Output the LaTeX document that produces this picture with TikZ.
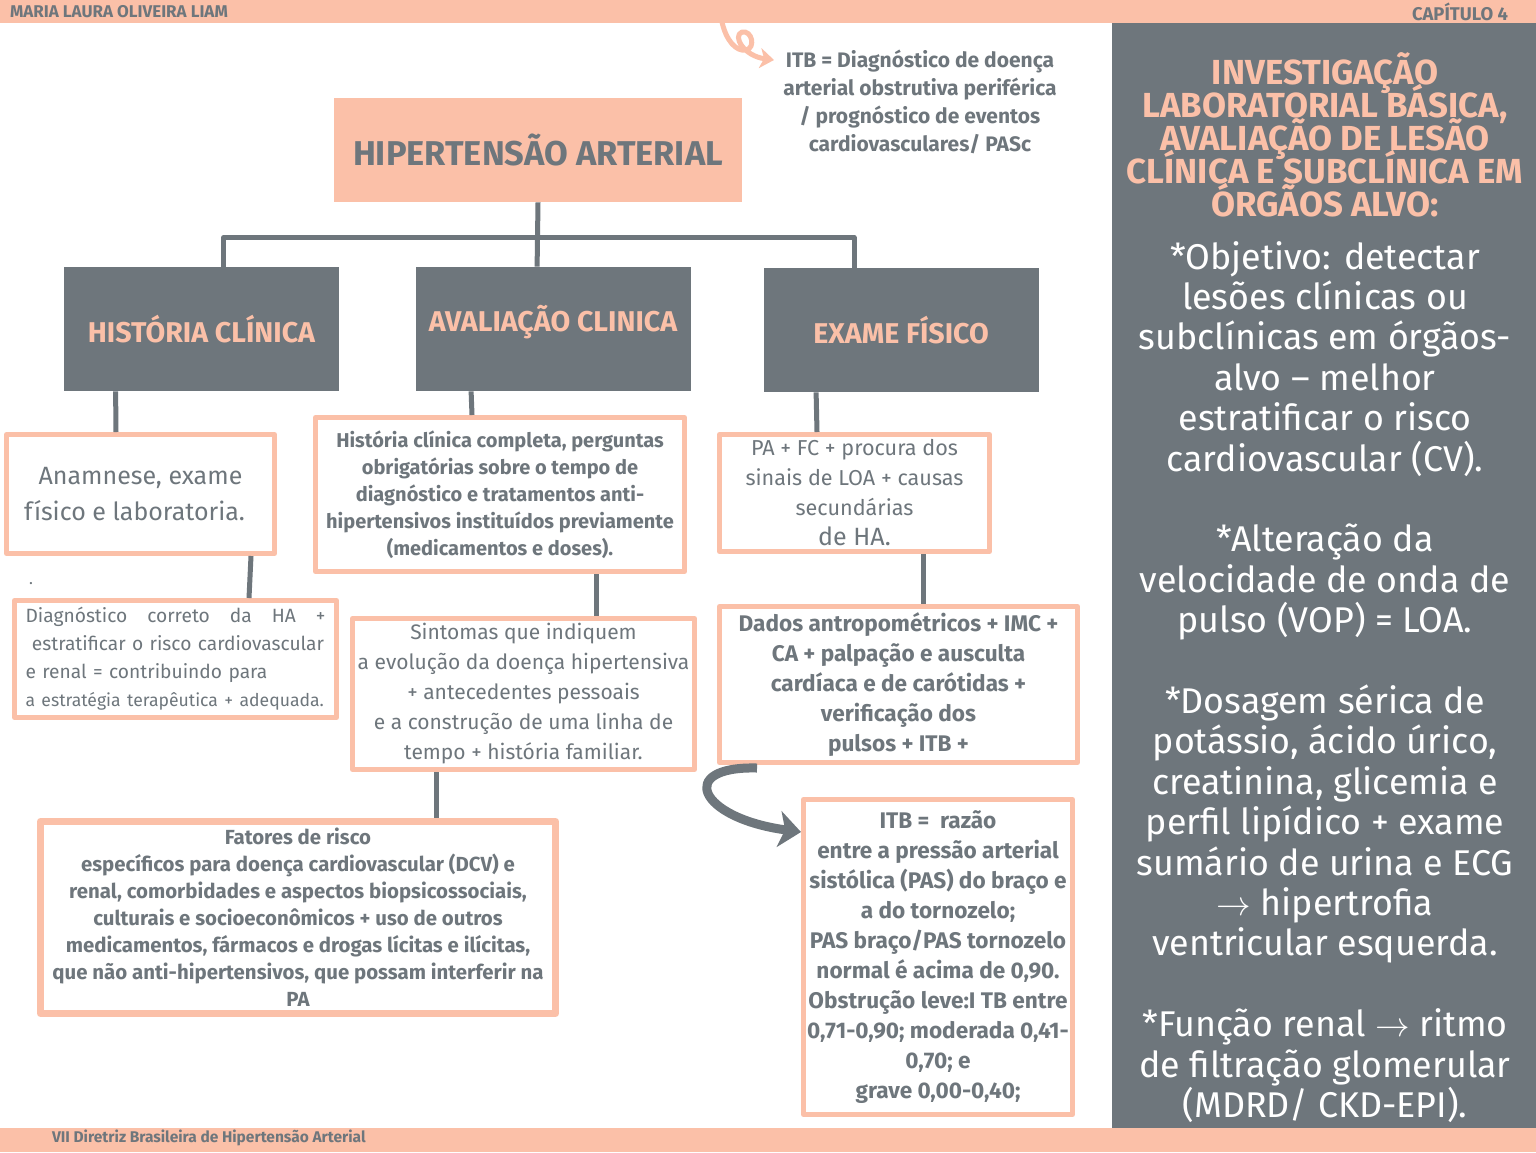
\documentclass[tikz,border=0pt]{standalone}
\usepackage{fontspec}
\setmainfont{Fira Sans}
\usetikzlibrary{arrows.meta}
\definecolor{peach}{RGB}{251,192,168}
\definecolor{slate}{RGB}{110,118,124}
\begin{document}
\begin{tikzpicture}[x=0.5pt,y=-0.5pt,line join=round,
  conn/.style={draw=slate,line width=2.5pt},
  headbox/.style={fill=slate,text=peach,minimum width=137.5pt,minimum height=62pt,
    font=\fontsize{14.3}{16}\selectfont\bfseries},
  notebox/.style={draw=peach,line width=2.5pt,fill=white,text=slate,align=center,inner sep=1pt},
  bold/.style={font=\fontsize{10.2}{13.5}\selectfont\bfseries}]
\useasboundingbox (0,0) rectangle (1536,1152);
\fill[white] (0,0) rectangle (1536,1152);
% bars and side panel
\fill[peach] (0,0) rectangle (1536,23);
\fill[peach] (0,1128) rectangle (1536,1152);
\fill[slate] (1112,23) rectangle (1536,1128);
\node[anchor=west,text=slate,font=\fontsize{8.5}{9}\selectfont\bfseries] (autora) at (3,12) {MARIA LAURA OLIVEIRA LIAM};
\node[anchor=east,text=slate,font=\fontsize{9.2}{10}\selectfont\bfseries] (capitulo) at (1515,12) {CAPÍTULO 4};
\node[anchor=west,text=slate,font=\fontsize{7.75}{9}\selectfont\bfseries] (fonte) at (45,1138) {VII Diretriz Brasileira de Hipertensão Arterial};
% main boxes
\node[fill=peach,text=slate,minimum width=204pt,minimum height=52pt,font=\fontsize{17.2}{20}\selectfont\bfseries] (hta) at (538,150) {HIPERTENSÃO ARTERIAL};
\node[headbox] (histc) at (201.5,329) {HISTÓRIA CLÍNICA};
\node[headbox] (aval) at (553,329) {\raisebox{11pt}{AVALIAÇÃO CLINICA}};
\node[headbox] (exame) at (901,330) {EXAME FÍSICO};
% left column
\node[notebox,minimum width=134pt,minimum height=59.5pt,font=\fontsize{12.5}{18}\selectfont] (anam) at (140.5,494) {Anamnese, exame\\físico e laboratoria.\hspace*{6pt}};
\node[text=slate,font=\fontsize{8}{8}\selectfont] (ponto) at (31,584) {.};
\node[notebox,minimum width=161pt,minimum height=58.5pt,text width=150pt,align=left,font=\fontsize{9.6}{14}\selectfont] (diag) at (175.5,659)
  {\makebox[150pt][l]{Diagnóstico\hfill correto\hfill da\hfill HA\hfill +}\\
   \ estratificar o risco cardiovascular\\
   e renal = contribuindo para\\
   {\fontsize{8.8}{14}\selectfont a estratégia terapêutica + adequada.}};
% middle column
\node[notebox,font=\fontsize{10}{13.5}\selectfont\bfseries,minimum width=184.5pt,minimum height=77pt] (histcomp) at (500,494.5)
  {História clínica completa, perguntas\\obrigatórias sobre o tempo de\\diagnóstico e tratamentos anti-\\hipertensivos instituídos previamente\\(medicamentos e doses).};
\node[notebox,minimum width=171pt,minimum height=75.5pt,font=\fontsize{10.5}{15}\selectfont] (sint) at (523.5,694)
  {Sintomas que indiquem\\a evolução da doença hipertensiva\\+ antecedentes pessoais\\e a construção de uma linha de\\tempo + história familiar.};
\node[notebox,bold,line width=3.5pt,minimum width=257.5pt,minimum height=96pt] (fatores) at (298,917.5)
  {Fatores de risco\\específicos para doença cardiovascular (DCV) e\\renal, comorbidades e aspectos biopsicossociais,\\culturais e socioeconômicos + uso de outros\\medicamentos, fármacos e drogas lícitas e ilícitas,\\que não anti-hipertensivos, que possam interferir na\\PA};
% right column
\node[notebox,minimum width=135pt,minimum height=58.5pt,font=\fontsize{10.8}{15}\selectfont] (pafc) at (854.5,493)
  {PA + FC + procura dos\\sinais de LOA + causas\\secundárias\\{\fontsize{12.5}{16}\selectfont de HA.}};
\node[notebox,minimum width=179pt,minimum height=78pt,font=\fontsize{11.3}{15}\selectfont\bfseries] (dados) at (898.5,684.5)
  {Dados antropométricos + IMC +\\CA + palpação e ausculta\\cardíaca e de carótidas +\\verificação dos\\pulsos + ITB +};
\node[notebox,minimum width=134.5pt,minimum height=157.5pt,font=\fontsize{11.3}{15}\selectfont\bfseries] (itb) at (938,957)
  {ITB =\ \ razão\\entre a pressão arterial\\sistólica (PAS) do braço e\\a do tornozelo;\\PAS braço/PAS tornozelo\\normal é acima de 0,90.\\Obstrução leve:I TB entre\\0,71-0,90; moderada 0,41-\\0,70; e\\grave 0,00-0,40;};
\node[text=slate,align=center,font=\fontsize{10.5}{14}\selectfont\bfseries] (itbnota) at (920,102)
  {ITB = Diagnóstico de doença\\arterial obstrutiva periférica\\/ prognóstico de eventos\\cardiovasculares/ PASc};
% side panel texts
\node[text=peach,align=center,font=\fontsize{17.4}{16.5}\selectfont\bfseries\lineskiplimit-100pt\lineskip0pt\relax] (titulo) at (1325,135)
  {INVESTIGAÇÃO\\LABORATORIAL BÁSICA,\\AVALIAÇÃO DE LESÃO\\CLÍNICA E SUBCLÍNICA EM\\ÓRGÃOS ALVO:};
\node[text=white,align=center,font=\fontsize{17.9}{20.2}\selectfont\lineskiplimit-100pt\lineskip0pt\relax] (corpo) at (1325,682)
  {*Objetivo: detectar\\lesões clínicas ou\\subclínicas em órgãos-\\alvo -- melhor\\estratificar o risco\\cardiovascular (CV).\\[20.2pt]
   *Alteração da\\velocidade de onda de\\pulso (VOP) = LOA.\\[20.2pt]
   *Dosagem sérica de\\potássio, ácido úrico,\\creatinina, glicemia e\\perfil lipídico + exame\\sumário de urina e ECG\\$\rightarrow$ hipertrofia\\ventricular esquerda.\\[20.2pt]
   *Função renal $\rightarrow$ ritmo\\de filtração glomerular\\(MDRD/ CKD-EPI).};
% connectors
\draw[conn] ([xshift=80pt]histc.north west) -- ++(0,-29) -| ([xshift=45.5pt]exame.north west);
\draw[conn] (hta.south) -- ([xshift=61pt]aval.north west);
\draw[conn] ([xshift=26pt]histc.south west) -- ([xshift=56pt]anam.north west);
\draw[conn] ([xshift=123.5pt]anam.south west) -- ([xshift=118.5pt]diag.north west);
\draw[conn] ([xshift=28pt]aval.south west) -- ([xshift=79.5pt]histcomp.north west);
\draw[conn] ([xshift=141.5pt]histcomp.south west) -- ([xshift=123pt]sint.north west);
\draw[conn] ([xshift=43pt]sint.south west) -- ([xshift=199.5pt]fatores.north west);
\draw[conn] ([xshift=26.5pt]exame.south west) -- ([xshift=50pt]pafc.north west);
\draw[conn] ([xshift=103pt]pafc.south west) -- ([xshift=103pt]dados.north west);
\draw[slate,line width=4.5pt,-{Stealth[length=11pt,width=18pt,inset=3pt]}]
  ([xshift=20pt,yshift=-1.5pt]dados.south west) .. controls (676,766) and (698,818) .. ([yshift=-17.5pt]itb.north west);
% peach curl
\coordinate (curlini) at (722,22);
\coordinate (curlfim) at (774,60);
\draw[peach,line width=2.5pt,line cap=round,-{Stealth[length=7pt,width=10pt,inset=2pt]}]
  (curlini) .. controls (726,40) and (736,52) .. (746,50) .. controls (756,48) and (752,30) .. (742,32)
  .. controls (732,36) and (744,56) .. (curlfim);
\end{tikzpicture}
\end{document}
